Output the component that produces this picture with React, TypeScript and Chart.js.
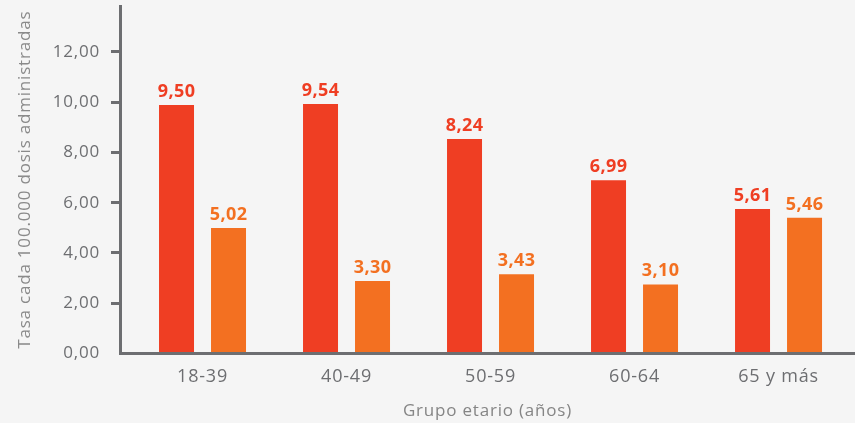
import { useEffect, useRef } from "react";
import { Chart, registerables } from "chart.js";

Chart.register(...registerables);

const categories = ["18-39", "40-49", "50-59", "60-64", "65 y más"];
const redValues = [9.89, 9.93, 8.54, 6.9, 5.75];
const orangeValues = [4.99, 2.89, 3.15, 2.75, 5.4];
const redLabels = ["9,50", "9,54", "8,24", "6,99", "5,61"];
const orangeLabels = ["5,02", "3,30", "3,43", "3,10", "5,46"];
const yTicks = [0, 2, 4, 6, 8, 10, 12];

const RED = "#ef3e23";
const ORANGE = "#f37021";
const AXIS = "#6d6e71";
const FONT = "'Open Sans', sans-serif";

export default function App() {
  const ref = useRef<HTMLCanvasElement | null>(null);

  useEffect(() => {
    document.body.style.margin = "0";
    const canvas = ref.current;
    if (!canvas) return;

    const bg = {
      id: "bg",
      beforeDraw(chart: any) {
        const { ctx, width, height } = chart;
        ctx.save();
        ctx.fillStyle = "#f5f5f5";
        ctx.fillRect(0, 0, width, height);
        ctx.restore();
        ctx.letterSpacing = "0.8px";
      },
    };

    const labelsPlugin = {
      id: "barLabels",
      afterDatasetsDraw(chart: any) {
        const { ctx } = chart;
        const texts = [redLabels, orangeLabels];
        const colors = [RED, ORANGE];
        ctx.save();
        ctx.letterSpacing = "0.4px";
        ctx.font = `bold 18px ${FONT}`;
        ctx.textAlign = "center";
        ctx.textBaseline = "alphabetic";
        chart.data.datasets.forEach((_: any, di: number) => {
          const meta = chart.getDatasetMeta(di);
          ctx.fillStyle = colors[di];
          meta.data.forEach((el: any, i: number) => {
            ctx.fillText(texts[di][i], el.x, el.y - 8);
          });
        });
        ctx.restore();
      },
    };

    const chart = new Chart(canvas, {
      type: "bar",
      data: {
        datasets: [
          {
            label: "A",
            data: redValues.map((v, i) => ({ x: i, y: v })),
            backgroundColor: RED,
            categoryPercentage: 0.7222,
            barPercentage: 0.673,
          },
          {
            label: "B",
            data: orangeValues.map((v, i) => ({ x: i, y: v })),
            backgroundColor: ORANGE,
            categoryPercentage: 0.7222,
            barPercentage: 0.673,
          },
        ],
      },
      options: {
        animation: false,
        responsive: true,
        maintainAspectRatio: false,
        layout: { padding: { top: 6, left: 0, right: 0, bottom: 0 } },
        plugins: {
          legend: { display: false },
          tooltip: { enabled: false },
        },
        scales: {
          x: {
            type: "linear",
            offset: false,
            min: -0.573,
            max: 4.531,
            afterBuildTicks(scale: any) {
              scale.ticks = categories.map((_, i) => ({ value: i }));
            },
            afterFit(scale: any) {
              scale.height = 69.5;
              scale.paddingLeft = 0;
              scale.paddingRight = 0;
            },
            ticks: {
              callback: (v: any) => categories[v as number] ?? "",
              font: { family: FONT, size: 18 },
              color: AXIS,
              padding: 12.7,
              maxRotation: 0,
              autoSkip: false,
            },
            grid: { drawOnChartArea: false, drawTicks: false, offset: false },
            border: { color: AXIS, width: 3 },
            title: {
              display: true,
              text: "Grupo etario (años)",
              font: { family: FONT, size: 17 },
              color: "#858585",
              padding: { top: 0, bottom: 1.8 },
            },
          },
          y: {
            min: 0,
            max: 13.83,
            afterBuildTicks(scale: any) {
              scale.ticks = yTicks.map((v) => ({ value: v }));
            },
            afterFit(scale: any) {
              scale.width = 120;
              scale.paddingTop = 0;
              scale.paddingBottom = 0;
            },
            ticks: {
              callback: (v: any) => (v as number).toFixed(2).replace(".", ","),
              font: { family: FONT, size: 17 },
              color: AXIS,
              padding: 11,
            },
            grid: {
              drawOnChartArea: false,
              drawTicks: true,
              tickLength: 9,
              lineWidth: 3,
              color: (c: any) => (c.tick && c.tick.value === 0 ? "rgba(0,0,0,0)" : AXIS),
            },
            border: { color: AXIS, width: 3 },
            title: {
              display: true,
              text: "Tasa cada 100.000 dosis administradas",
              font: { family: FONT, size: 17 },
              color: "#8a8a8a",
              padding: { top: 15, bottom: 0 },
            },
          },
        },
      },
      plugins: [bg, labelsPlugin],
    });

    return () => chart.destroy();
  }, []);

  return (
    <div style={{ width: 855, height: 423, position: "relative" }}>
      <canvas ref={ref} style={{ display: "block" }} />
    </div>
  );
}
